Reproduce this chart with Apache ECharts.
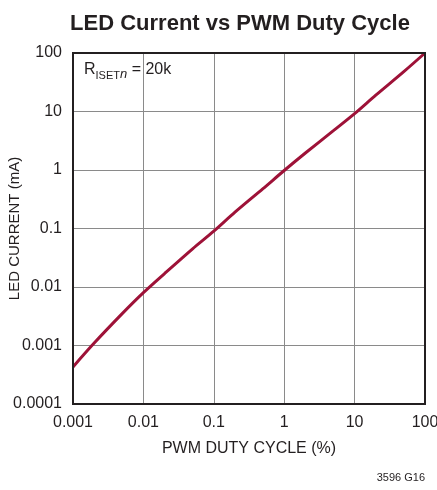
<!DOCTYPE html>
<html>
<head>
<meta charset="utf-8">
<script src="https://cdn.jsdelivr.net/npm/echarts@6/dist/echarts.min.js"></script>
<style>
  html, body { margin: 0; padding: 0; background: #fff; }
  #chart { width: 437px; height: 490px; }
</style>
</head>
<body>
<div id="chart"></div>
<script>
// duty cycle (%) and LED current (mA)
var dutyCycle = [0.001, 0.002, 0.005, 0.01, 0.02, 0.05, 0.1, 0.2, 0.5, 1, 2, 5, 10, 20, 50, 100];
var ledCurrent = [0.00043, 0.0011, 0.0035, 0.008, 0.017, 0.045, 0.09, 0.19, 0.48, 0.98, 1.95, 4.7, 9.2, 19, 48, 100];
var xTickLabels = ['0.001', '0.01', '0.1', '1', '10', '100'];
var yTickLabels = ['0.0001', '0.001', '0.01', '0.1', '1', '10', '100'];

var font = '"Liberation Sans", Arial, sans-serif';

var chartDom = document.getElementById('chart');
var myChart = echarts.init(chartDom);
var option;

option = {
  animation: false,
  title: {
    text: 'LED Current vs PWM Duty Cycle',
    left: 235,
    textAlign: 'center',
    top: 8,
    textStyle: { fontFamily: font, fontWeight: 'bold', fontSize: 22, color: '#231f20' }
  },
  grid: { left: 73, right: 12, top: 53, bottom: 86, containLabel: false, outerBoundsMode: 'none' },
  xAxis: {
    type: 'log',
    logBase: 10,
    min: 0.001,
    max: 100,
    name: 'PWM DUTY CYCLE (%)',
    nameLocation: 'middle',
    nameGap: 37,
    nameMoveOverlap: false,
    nameTextStyle: { fontFamily: font, fontSize: 16, color: '#231f20' },
    axisLine: { onZero: false, lineStyle: { color: '#231f20', width: 2 } },
    axisTick: { show: false },
    minorTick: { show: false },
    splitLine: { show: true, lineStyle: { color: '#8a8a8a', width: 1 } },
    axisLabel: {
      fontFamily: font, fontSize: 16, color: '#231f20', margin: 11,
      formatter: function (v) {
        return xTickLabels[Math.round(Math.log10(v)) + 3];
      }
    }
  },
  yAxis: {
    type: 'log',
    logBase: 10,
    min: 0.0001,
    max: 100,
    name: 'LED CURRENT (mA)',
    nameLocation: 'middle',
    nameGap: 51,
    nameMoveOverlap: false,
    nameTextStyle: { fontFamily: font, fontSize: 15, color: '#231f20' },
    axisLine: { onZero: false, lineStyle: { color: '#231f20', width: 2 } },
    axisTick: { show: false },
    splitLine: { show: true, lineStyle: { color: '#8a8a8a', width: 1 } },
    axisLabel: {
      fontFamily: font, fontSize: 16, color: '#231f20', margin: 11,
      formatter: function (v) {
        return yTickLabels[Math.round(Math.log10(v)) + 4];
      }
    }
  },
  graphic: [
    {
      type: 'rect',
      shape: { x: 73, y: 53, width: 352, height: 351 },
      style: { fill: 'none', stroke: '#231f20', lineWidth: 2 },
      z: 10
    },
    {
      type: 'text',
      left: 84,
      top: 62,
      style: {
        text: '{r|R}{s|ISET}{n|n}{r| = 20k}',
        rich: {
          r: { fontFamily: font, fontSize: 16, fill: '#231f20', verticalAlign: 'top' },
          s: { fontFamily: font, fontSize: 11, fill: '#231f20', padding: [8, 0, 0, 0] },
          n: { fontFamily: font, fontSize: 13, fontStyle: 'italic', fill: '#231f20', padding: [6, 0, 0, 0] }
        }
      },
      z: 20
    },
    {
      type: 'text',
      right: 12,
      top: 472,
      style: { text: '3596 G16', fontFamily: font, fontSize: 11, fill: '#231f20' }
    }
  ],
  series: [
    {
      type: 'line',
      data: dutyCycle.map(function (d, i) { return [d, ledCurrent[i]]; }),
      showSymbol: false,
      smooth: 0.3,
      lineStyle: { color: '#9e1238', width: 3 },
      z: 5
    }
  ]
};

option && myChart.setOption(option);
</script>
</body>
</html>
